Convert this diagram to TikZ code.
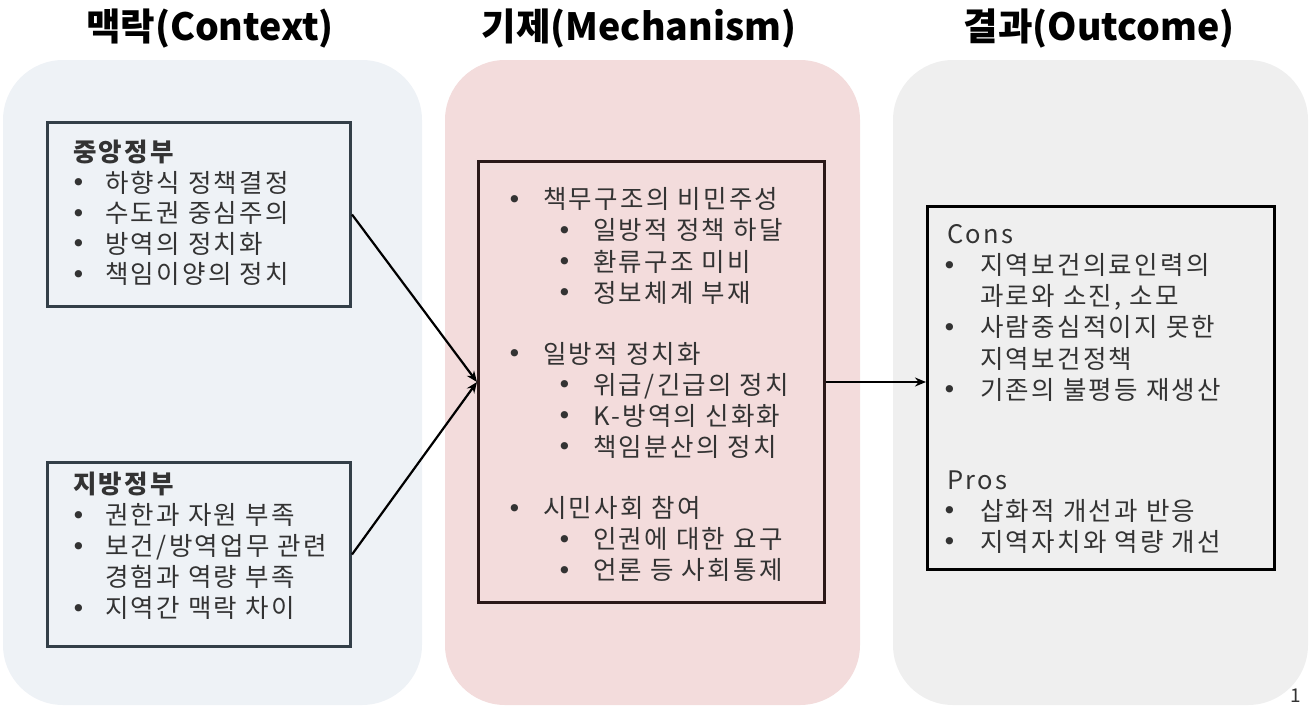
\documentclass[tikz,border=0pt]{standalone}
\usepackage{fontspec}
\setmainfont[LetterSpace=9]{Noto Sans CJK KR}
\newfontfamily\bulfont{DejaVu Sans}
\newfontfamily\titlefont{Noto Sans CJK KR}
\usetikzlibrary{arrows.meta}
\definecolor{ctxbg}{HTML}{EEF2F6}
\definecolor{mechbg}{HTML}{F3DCDC}
\definecolor{outbg}{HTML}{EFEFEF}
\definecolor{ctxline}{HTML}{333F48}
\definecolor{mechline}{HTML}{2B1818}
\definecolor{txtgray}{HTML}{333333}
\newcommand\dotb{\raisebox{0.5pt}{\bulfont\fontsize{25}{25}\selectfont •}}
\newcommand\itm[2]{\strut\makebox[#1][l]{\hspace*{-2pt}\dotb}#2}
\newcommand\sub[1]{\strut\hspace*{50pt}\makebox[34pt][l]{\hspace*{-2pt}\dotb}#1}
\tikzset{
  panel/.style={rounded corners=60pt},
  framebox/.style={draw, line width=3pt, anchor=north west, inner sep=0pt},
  title/.style={font=\titlefont\fontsize{37.5}{40}\selectfont\bfseries, anchor=base, inner sep=0pt},
  body/.style={align=left, anchor=north west, inner sep=0pt, text=txtgray},
  arr/.style={line width=2.2pt, -{Stealth[length=11pt,width=9pt]}},
}
\begin{document}
\begin{tikzpicture}[x=1pt,y=-1pt]
\useasboundingbox (0,0) rectangle (1315,707);
% panels
\fill[ctxbg, panel] (3,60) rectangle (422,705);
\fill[mechbg, panel] (445,60) rectangle (860,705);
\fill[outbg, panel] (893,60) rectangle (1308,705);
% titles
\node[title] (t1) at (210,40) {맥락(Context)};
\node[title] (t2) at (639,40) {기제(Mechanism)};
\node[title] (t3) at (1099,40) {결과(Outcome)};
% boxes
\node[framebox, draw=ctxline, minimum width=303pt, minimum height=184pt] (cg) at (46,121) {};
\node[framebox, draw=ctxline, minimum width=303pt, minimum height=184pt] (lg) at (46,461) {};
\node[framebox, draw=mechline, minimum width=346pt, minimum height=441pt] (mech) at (477,160) {};
\node[framebox, draw=black, minimum width=347pt, minimum height=363pt] (out) at (926,205) {};
% box texts
\node[body, font=\fontsize{25.5}{30.5}\selectfont] (cgtxt) at (73,140.2) {%
\strut\textbf{중앙정부}\\
\itm{32pt}{하향식 정책결정}\\
\itm{32pt}{수도권 중심주의}\\
\itm{32pt}{방역의 정치화}\\
\itm{32pt}{책임이양의 정치}};
\node[body, font=\fontsize{25.5}{31}\selectfont] (lgtxt) at (73,471.8) {%
\strut\textbf{지방정부}\\
\itm{32pt}{권한과 자원 부족}\\
\itm{32pt}{보건/방역업무 관련}\\
\strut\hspace*{32pt}경험과 역량 부족\\
\itm{32pt}{지역간 맥락 차이}};
\node[body, font=\fontsize{25.5}{30}\selectfont] (mechtxt) at (509,187.5) {%
\itm{34pt}{책무구조의 비민주성}\\
\sub{일방적 정책 하달}\\
\sub{환류구조 미비}\\
\sub{정보체계 부재}\\
\strut\\
\itm{34pt}{일방적 정치화}\\
\sub{위급/긴급의 정치}\\
\sub{K-방역의 신화화}\\
\sub{책임분산의 정치}\\
\strut\\
\itm{34pt}{시민사회 참여}\\
\sub{인권에 대한 요구}\\
\sub{언론 등 사회통제}};
\node[body, font=\fontsize{25.5}{30}\selectfont] (outtxt) at (944,222.5) {%
\strut\hspace*{3pt}Cons\\
\itm{36pt}{지역보건의료인력의}\\
\strut\hspace*{36pt}과로와 소진, 소모\\
\itm{36pt}{사람중심적이지 못한}\\
\strut\hspace*{36pt}지역보건정책\\
\itm{36pt}{기존의 불평등 재생산}\\
\strut\\
\strut\\
\strut\hspace*{3pt}Pros\\
\itm{36pt}{삽화적 개선과 반응}\\
\itm{36pt}{지역자치와 역량 개선}};
% arrows
\draw[arr] (cg.east) -- (mech.west);
\draw[arr] (lg.east) -- (mech.west);
\draw[arr] (mech.east) -- (mech.east -| out.west);
% page number
\node[font=\fontsize{19}{19}\selectfont, text=txtgray, inner sep=0pt] (pg) at (1296,696) {1};
\end{tikzpicture}
\end{document}
